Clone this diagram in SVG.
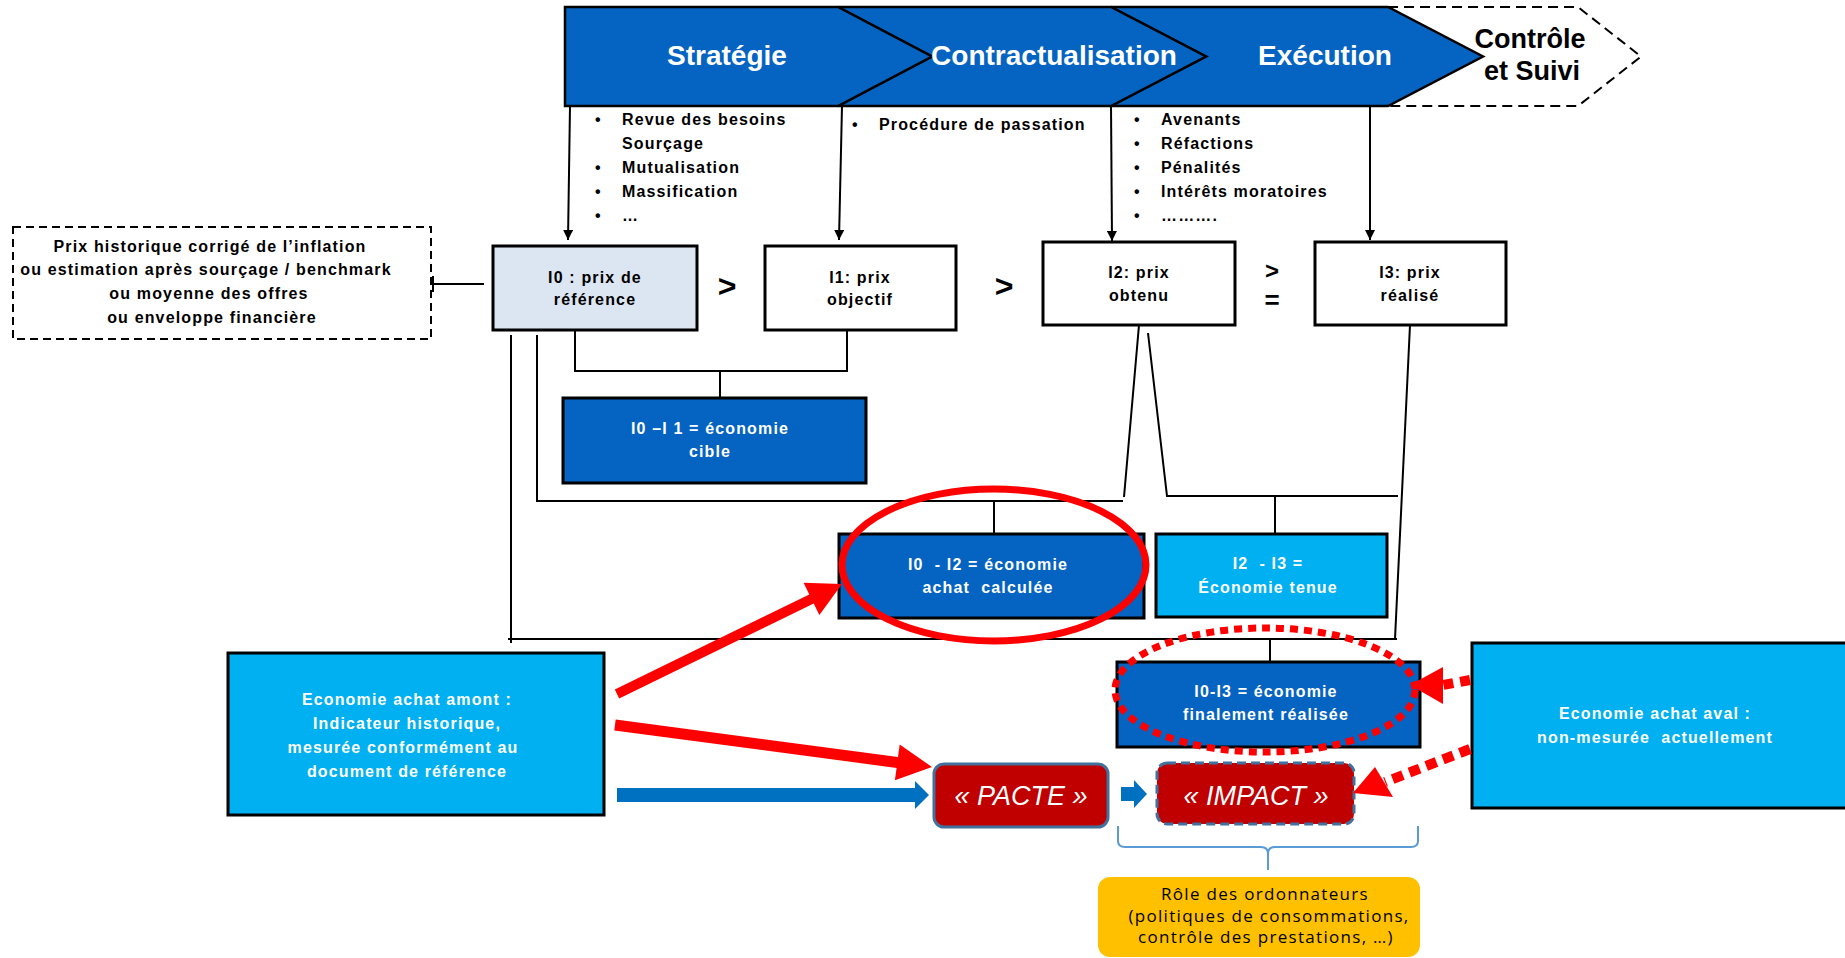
<svg xmlns="http://www.w3.org/2000/svg" width="1845" height="958" viewBox="0 0 1845 958">
<style>
text{font-family:"Liberation Sans",Arial,sans-serif}
.bt{font-size:16px;font-weight:bold;letter-spacing:1.15px}
.c{text-anchor:middle}
.w{fill:#fff}
.ban{font-size:28px;font-weight:bold;text-anchor:middle}
.box{stroke:#000;stroke-width:3}
.dk{fill:#0563c1}
.lt{fill:#00b0f0}
.ln{fill:none;stroke:#000;stroke-width:2}
.cmp{font-size:32px;font-weight:bold;text-anchor:middle}
.red{fill:#ff0000}
.bl{fill:#0070c0}
.it{font-style:italic;font-size:27px;fill:#fff;text-anchor:middle}
.yl{font-family:"Open Sans","Liberation Sans",sans-serif;font-size:17px;letter-spacing:1.3px;text-anchor:middle;fill:#000}
</style>
<defs>
<marker id="ah" markerUnits="userSpaceOnUse" markerWidth="10" markerHeight="10" refX="10" refY="5" orient="auto">
<path d="M0,0 L10,5 L0,10 z" fill="#000"/>
</marker>
</defs>
<rect width="1845" height="958" fill="#fff"/>

<g id="banner">
<path d="M1388,7 L1578,7 L1641,56.5 L1578,106 L1388,106" fill="none" stroke="#000" stroke-width="2" stroke-dasharray="10 6"/>
<path d="M1111,7 L1388,7 L1483,56.5 L1388,106 L1111,106 L1206,56.5 Z" fill="#0563c1" stroke="#000" stroke-width="2.5"/>
<path d="M838,7 L1111,7 L1206,56.5 L1111,106 L838,106 L932,56.5 Z" fill="#0563c1" stroke="#000" stroke-width="2.5"/>
<path d="M565,7 L838,7 L932,56.5 L838,106 L565,106 Z" fill="#0563c1" stroke="#000" stroke-width="2.5"/>
<text class="ban w" x="727" y="65">Stratégie</text>
<text class="ban w" x="1054" y="65">Contractualisation</text>
<text class="ban w" x="1325" y="65">Exécution</text>
<text class="ban" x="1530" y="48" style="font-size:27px">Contrôle</text>
<text class="ban" x="1532" y="80" style="font-size:27px">et Suivi</text>
</g>

<g id="bullets">
<text class="bt" x="595" y="125">•</text><text class="bt" x="622" y="125">Revue des besoins</text>
<text class="bt" x="622" y="149">Sourçage</text>
<text class="bt" x="595" y="173">•</text><text class="bt" x="622" y="173">Mutualisation</text>
<text class="bt" x="595" y="197">•</text><text class="bt" x="622" y="197">Massification</text>
<text class="bt" x="595" y="221">•</text><text class="bt" x="622" y="221">…</text>
<text class="bt" x="852" y="130">•</text><text class="bt" x="879" y="130">Procédure de passation</text>
<text class="bt" x="1134" y="125">•</text><text class="bt" x="1161" y="125">Avenants</text>
<text class="bt" x="1134" y="149">•</text><text class="bt" x="1161" y="149">Réfactions</text>
<text class="bt" x="1134" y="173">•</text><text class="bt" x="1161" y="173">Pénalités</text>
<text class="bt" x="1134" y="197">•</text><text class="bt" x="1161" y="197">Intérêts moratoires</text>
<text class="bt" x="1134" y="221">•</text><text class="bt" x="1161" y="221">……….</text>
</g>

<g id="ref-sources">
<rect x="13" y="227" width="418" height="112" fill="none" stroke="#000" stroke-width="2" stroke-dasharray="8 5"/>
<text class="bt c" x="210" y="252">Prix  historique corrigé de l’inflation</text>
<text class="bt c" x="206" y="275">ou estimation après sourçage / benchmark</text>
<text class="bt c" x="209" y="299">ou moyenne des offres</text>
<text class="bt c" x="212" y="323">ou enveloppe financière</text>
</g>

<g id="I0">
<rect class="box" x="493" y="246" width="204" height="84" fill="#dce6f2"/>
<text class="bt c" x="595" y="283">I0 : prix de</text>
<text class="bt c" x="595" y="305">référence</text>
</g>
<g id="I1">
<rect class="box" x="765" y="246" width="191" height="84" fill="#fff"/>
<text class="bt c" x="860" y="283">I1: prix</text>
<text class="bt c" x="860" y="305">objectif</text>
</g>
<g id="I2">
<rect class="box" x="1043" y="242" width="192" height="83" fill="#fff"/>
<text class="bt c" x="1139" y="278">I2: prix</text>
<text class="bt c" x="1139" y="301">obtenu</text>
</g>
<g id="I3">
<rect class="box" x="1315" y="242" width="191" height="83" fill="#fff"/>
<text class="bt c" x="1410" y="278">I3: prix</text>
<text class="bt c" x="1410" y="301">réalisé</text>
</g>
<g id="comparators">
<text class="cmp" x="727" y="297">&gt;</text>
<text class="cmp" x="1004" y="297">&gt;</text>
<text class="cmp" x="1272" y="279" style="font-size:24px">&gt;</text>
<text class="cmp" x="1272" y="308.5" style="font-size:26px">=</text>
</g>

<g id="eco-cible">
<rect class="box dk" x="563" y="398" width="303" height="85"/>
<text class="bt c w" x="710" y="434">I0 –I 1 = économie</text>
<text class="bt c w" x="710" y="457">cible</text>
</g>
<g id="eco-calculee">
<rect class="box dk" x="839" y="534" width="305" height="84"/>
<text class="bt c w" x="988" y="570" xml:space="preserve">I0  - I2 = économie</text>
<text class="bt c w" x="988" y="593" xml:space="preserve">achat  calculée</text>
</g>
<g id="eco-tenue">
<rect class="box lt" x="1156" y="534" width="231" height="83"/>
<text class="bt c w" x="1268" y="569" xml:space="preserve">I2  - I3 =</text>
<text class="bt c w" x="1268" y="593">Économie tenue</text>
</g>
<g id="eco-realisee">
<rect class="box dk" x="1117" y="662" width="303" height="85"/>
<text class="bt c w" x="1266" y="697">I0-I3 = économie</text>
<text class="bt c w" x="1266" y="720">finalement réalisée</text>
</g>
<g id="amont">
<rect class="box lt" x="228" y="653" width="376" height="162"/>
<text class="bt c w" x="407" y="705">Economie achat amont :</text>
<text class="bt c w" x="407" y="729">Indicateur historique,</text>
<text class="bt c w" x="403" y="753">mesurée conformément au</text>
<text class="bt c w" x="407" y="777">document de référence</text>
</g>
<g id="aval">
<rect class="box lt" x="1472" y="643" width="385" height="165"/>
<text class="bt c w" x="1655" y="719">Economie achat aval :</text>
<text class="bt c w" x="1655" y="743" xml:space="preserve">non-mesurée  actuellement</text>
</g>
<g id="pacte">
<rect x="934" y="764" width="174" height="63" rx="10" fill="#c00000" stroke="#41719c" stroke-width="3"/>
<text class="it" x="1021" y="805">« PACTE »</text>
</g>
<g id="impact">
<rect x="1157" y="763" width="197" height="61" rx="10" fill="#c00000" stroke="#41719c" stroke-width="3" stroke-dasharray="9 5"/>
<text class="it" x="1256" y="805">« IMPACT »</text>
</g>
<g id="ordonnateurs">
<rect x="1098" y="877" width="322" height="80" rx="12" fill="#ffc000"/>
<text class="yl" x="1265" y="900">Rôle des ordonnateurs</text>
<text class="yl" x="1269" y="922">(politiques de consommations,</text>
<text class="yl" x="1266" y="943">contrôle des prestations, …)</text>
</g>

<g id="connectors">
<line class="ln" x1="570" y1="106" x2="568" y2="240" marker-end="url(#ah)"/>
<line class="ln" x1="842" y1="106" x2="839" y2="240" marker-end="url(#ah)"/>
<line class="ln" x1="1111" y1="106" x2="1112" y2="241" marker-end="url(#ah)"/>
<line class="ln" x1="1370" y1="106" x2="1370" y2="240" marker-end="url(#ah)"/>
<path class="ln" d="M433,284 H484 M433,276 V292"/>
<path class="ln" d="M511,335 V643"/>
<path class="ln" d="M537,335 V501 H1123 M1124,497 L1139,325"/>
<path class="ln" d="M575,330 V371 H847 V331 M720,371 V398"/>
<path class="ln" d="M1148,333 L1167,496 H1398 M1275,496 V534"/>
<path class="ln" d="M994,501 V534"/>
<path class="ln" d="M1410,325 L1395,639 M508,639 H1397 M1270,639 V662"/>
<path d="M1118,826 V841 Q1118,847 1125,847 H1261 Q1268,847 1268,854 V870 M1268,854 Q1268,847 1275,847 H1411 Q1418,847 1418,841 V826" fill="none" stroke="#5b9bd5" stroke-width="2"/>
<rect class="bl" x="617" y="788" width="298" height="14"/>
<polygon class="bl" points="915,781 929,795 915,809"/>
<rect class="bl" x="1121" y="787" width="13" height="14"/>
<polygon class="bl" points="1134,780 1147,794 1134,808"/>
<ellipse cx="994" cy="565" rx="152" ry="76" fill="none" stroke="#ff0000" stroke-width="7"/>
<ellipse cx="1265" cy="690" rx="150" ry="62" fill="none" stroke="#ff0000" stroke-width="7" stroke-dasharray="8 6"/>
<polygon class="red" points="614.8,689.5 619.2,698.5 813.7,603.4 819.4,615.1 842,584 803.6,582.7 809.3,594.4"/>
<polygon class="red" points="615.7,719.5 614.3,730.5 896.6,767.9 894.9,780.2 932,767 899.7,744.6 898,756.9"/>
<line x1="1470" y1="680" x2="1443" y2="685" stroke="#ff0000" stroke-width="10" stroke-dasharray="10 7"/>
<polygon class="red" points="1410,685 1443,667 1443,704"/>
<line x1="1470" y1="749" x2="1385" y2="782" stroke="#ff0000" stroke-width="10" stroke-dasharray="11 7"/>
<polygon class="red" points="1353,793 1375,767 1393,797"/>
</g>
</svg>
